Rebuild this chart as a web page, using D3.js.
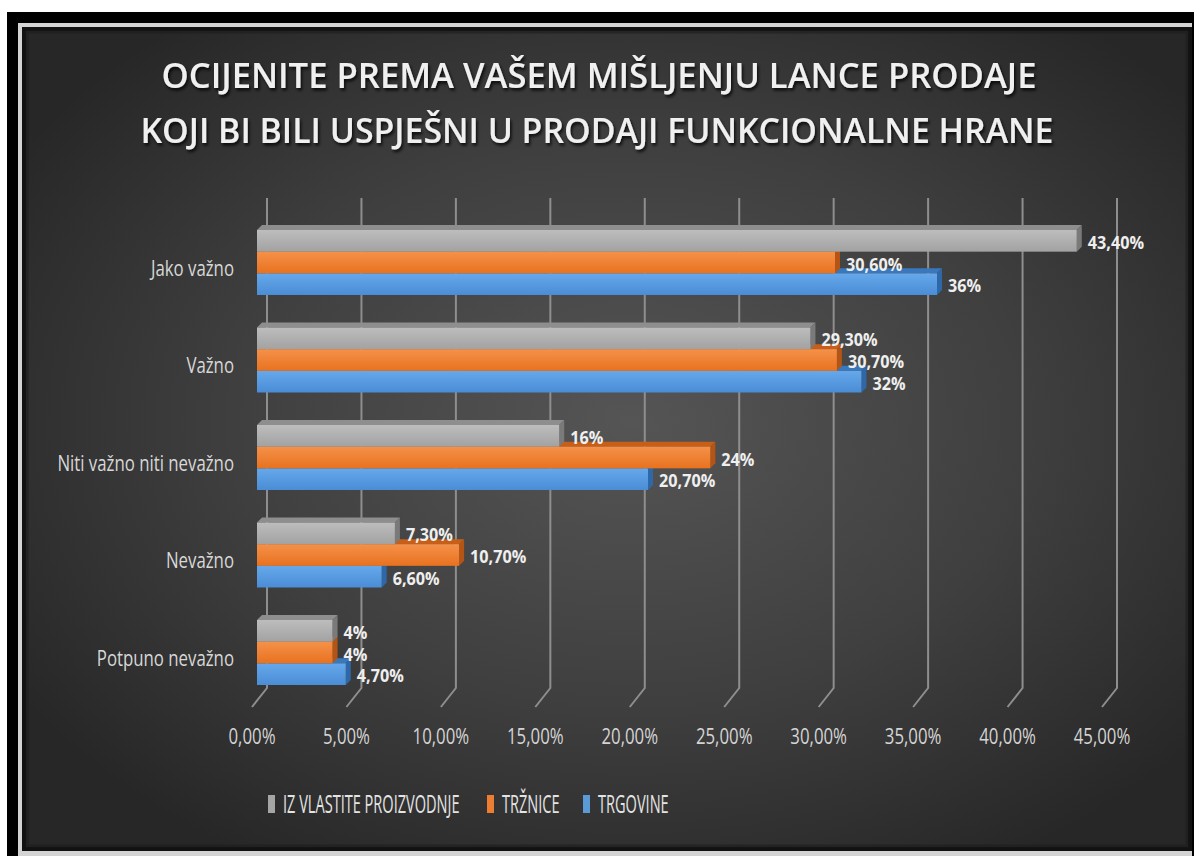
<!DOCTYPE html>
<html lang="hr">
<head>
<meta charset="UTF-8">
<title>Lanci prodaje funkcionalne hrane</title>
<script src="https://cdn.jsdelivr.net/npm/d3@7"></script>
<style>
  html, body { margin: 0; padding: 0; background: #fff; }
  svg { display: block; }
  text { font-family: "Open Sans", "Noto Sans", sans-serif; }
</style>
</head>
<body>
<script>
// podaci (u postocima)
var categories = ["Jako važno", "Važno", "Niti važno niti nevažno", "Nevažno", "Potpuno nevažno"];
var seriesNames = ["IZ VLASTITE PROIZVODNJE", "TRŽNICE", "TRGOVINE"];
var vlastitaProizvodnja = [43.4, 29.3, 16, 7.3, 4];
var trznice = [30.6, 30.7, 24, 10.7, 4];
var trgovine = [36, 32, 20.7, 6.6, 4.7];
var tickValues = [0, 5, 10, 15, 20, 25, 30, 35, 40, 45];
var titleLines = ["OCIJENITE PREMA VAŠEM MIŠLJENJU LANCE PRODAJE",
                  "KOJI BI BILI USPJEŠNI U PRODAJI FUNKCIONALNE HRANE"];

var seriesValues = [vlastitaProizvodnja, trznice, trgovine];
var colors = [
  {front: ["#bdbdbd", "#a2a2a2"], top: "#8e8e8e", side: "#7a7a7a", key: "#a5a5a5"},
  {front: ["#f5914a", "#e8721f"], top: "#c85f18", side: "#b45515", key: "#ed7d31"},
  {front: ["#66a8ea", "#4a8dd6"], top: "#3a78bd", side: "#2f68a8", key: "#5b9bd5"}
];

var width = 1194, height = 856;
var svg = d3.select("body").append("svg")
    .attr("width", width)
    .attr("height", height);

var defs = svg.append("defs");
var bg = defs.append("radialGradient").attr("id", "bg")
    .attr("cx", "52%").attr("cy", "48%").attr("r", "62%");
bg.append("stop").attr("offset", "0%").attr("stop-color", "#555555");
bg.append("stop").attr("offset", "55%").attr("stop-color", "#3f3f3f");
bg.append("stop").attr("offset", "100%").attr("stop-color", "#272727");

colors.forEach(function(c, i) {
  var g = defs.append("linearGradient").attr("id", "bar" + i)
      .attr("x1", 0).attr("y1", 0).attr("x2", 0).attr("y2", 1);
  g.append("stop").attr("offset", "0%").attr("stop-color", c.front[0]);
  g.append("stop").attr("offset", "100%").attr("stop-color", c.front[1]);
});

// sjena naslova (široka regija da se ništa ne odreže)
var shadow = defs.append("filter").attr("id", "shadow")
    .attr("filterUnits", "userSpaceOnUse")
    .attr("x", 0).attr("y", 0).attr("width", width).attr("height", 200);
shadow.append("feDropShadow").attr("dx", 1.5).attr("dy", 2.5)
    .attr("stdDeviation", 1.5).attr("flood-color", "#000").attr("flood-opacity", 0.8);

// okvir slike
svg.append("rect").attr("x", 7).attr("y", 12).attr("width", 1187).attr("height", 844).attr("fill", "#000");
svg.append("rect").attr("x", 18).attr("y", 23).attr("width", 1174).attr("height", 833).attr("fill", "#d4d4d4");
svg.append("rect").attr("x", 22).attr("y", 27).attr("width", 1170).attr("height", 824).attr("fill", "url(#bg)");
svg.append("rect").attr("x", 24).attr("y", 29).attr("width", 1166).attr("height", 820)
    .attr("fill", "none").attr("stroke", "#121212").attr("stroke-width", 4);
svg.append("rect").attr("x", 27).attr("y", 32).attr("width", 1160).attr("height", 814)
    .attr("fill", "none").attr("stroke", "#1d1d1d").attr("stroke-width", 3).attr("opacity", 0.6);

// naslov
svg.append("g").attr("filter", "url(#shadow)")
  .selectAll("text").data(titleLines).enter().append("text")
    .attr("x", function(d, i) { return i === 0 ? 599 : 597; })
    .attr("y", function(d, i) { return 88 + i * 55; })
    .attr("text-anchor", "middle")
    .attr("textLength", function(d, i) { return i === 0 ? 875 : 913; })
    .attr("lengthAdjust", "spacingAndGlyphs")
    .attr("font-size", 35)
    .attr("font-weight", 600)
    .attr("fill", "#f0f0f0")
    .text(function(d) { return d; });

// skale
var x = d3.scaleLinear().domain([0, 45]).range([252, 1102]);
var y = d3.scaleBand().domain(categories).range([213.75, 701.25])
    .paddingInner(1 / 3).paddingOuter(1 / 6);
var ySub = d3.scaleBand().domain(d3.range(seriesNames.length)).range([0, y.bandwidth()]);

var wallShift = 15, barShift = 5;
var depthX = 5, depthY = -5;
var gridTop = 198, gridBottom = 688, floorFront = 707;

// mreža (zadnji zid + pod)
var grid = svg.append("g");
grid.selectAll("path").data(tickValues).enter().append("path")
    .attr("d", function(d) {
      var xb = x(d) + wallShift;
      return "M" + xb + "," + gridTop + "L" + xb + "," + gridBottom + "L" + x(d) + "," + floorFront;
    })
    .attr("fill", "none")
    .attr("stroke", "#8e8e8e")
    .attr("stroke-width", 2);

// os x
svg.append("g").selectAll("g").data(tickValues).enter().append("g")
    .attr("transform", function(d) { return "translate(" + x(d) + ",744) scale(0.8,1)"; })
  .append("text")
    .attr("text-anchor", "middle")
    .attr("font-size", 21)
    .attr("fill", "#d4d4d4")
    .text(function(d) { return d3.format(".2f")(d).replace(".", ",") + "%"; });

// kategorije
svg.append("g").selectAll("g").data(categories).enter().append("g")
    .attr("transform", function(d) { return "translate(234," + (y(d) + y.bandwidth() / 2 + 13) + ") scale(0.8,1)"; })
  .append("text")
    .attr("text-anchor", "end")
    .attr("font-size", 21)
    .attr("fill", "#d8d8d8")
    .text(function(d) { return d; });

// 3D stupci
var bars = svg.append("g");
var x0 = x(0) + barShift;
categories.forEach(function(cat, ci) {
  for (var si = seriesNames.length - 1; si >= 0; si--) {
    var v = seriesValues[si][ci];
    var x1 = x(v) + barShift;
    var top = y(cat) + ySub(si);
    var h = ySub.bandwidth();
    var g = bars.append("g");
    g.append("polygon")
        .attr("points", [[x0, top], [x0 + depthX, top + depthY], [x1 + depthX, top + depthY], [x1, top]].join(" "))
        .attr("fill", colors[si].top);
    g.append("polygon")
        .attr("points", [[x1, top], [x1 + depthX, top + depthY], [x1 + depthX, top + h + depthY], [x1, top + h]].join(" "))
        .attr("fill", colors[si].side);
    g.append("rect")
        .attr("x", x0).attr("y", top)
        .attr("width", x1 - x0).attr("height", h)
        .attr("fill", "url(#bar" + si + ")");
  }
});

// oznake vrijednosti
function fmt(v) {
  return (Number.isInteger(v) ? String(v) : d3.format(".2f")(v).replace(".", ",")) + "%";
}
var labels = svg.append("g");
seriesValues.forEach(function(vals, si) {
  labels.selectAll("g.s" + si).data(vals).enter().append("g")
      .attr("class", "s" + si)
      .attr("transform", function(d, ci) {
        var cy = y(categories[ci]) + ySub(si) + ySub.bandwidth() / 2 + 1;
        return "translate(" + (x(d) + barShift + depthX + 6) + "," + (cy + 7) + ") scale(0.9,1)";
      })
    .append("text")
      .attr("font-size", 18)
      .attr("font-weight", "bold")
      .attr("fill", "#efefef")
      .text(fmt);
});

// legenda
var legendX = [268, 487, 583];
var legend = svg.append("g").selectAll("g").data(seriesNames).enter().append("g")
    .attr("transform", function(d, i) { return "translate(" + legendX[i] + ",0)"; });
legend.append("rect")
    .attr("x", 0).attr("y", 795).attr("width", 7).attr("height", 18)
    .attr("fill", function(d, i) { return colors[i].key; });
legend.append("g")
    .attr("transform", "translate(15,813) scale(0.56,1)")
  .append("text")
    .attr("font-size", 26)
    .attr("fill", "#e4e4e4")
    .text(function(d) { return d; });
</script>
</body>
</html>
